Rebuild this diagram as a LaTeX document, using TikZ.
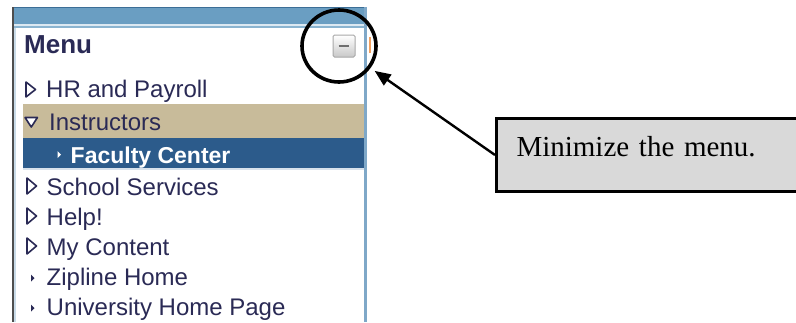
\documentclass[tikz,border=0pt]{standalone}
\usepackage{fontspec}
\setmainfont{Liberation Sans}
\newfontfamily\serifcall{Liberation Serif}
\usetikzlibrary{arrows.meta,shapes.geometric}
\definecolor{menutext}{HTML}{2A2A55}
\definecolor{bandblue}{HTML}{6A9EC2}
\definecolor{bandtop}{HTML}{3C6E96}
\definecolor{bandlight}{HTML}{DCE9F2}
\definecolor{bandline}{HTML}{8AB4D0}
\definecolor{leftdark}{HTML}{4E4E4E}
\definecolor{leftlight}{HTML}{C9DBE8}
\definecolor{edgeblue}{HTML}{7FA8C8}
\definecolor{edgeorange}{HTML}{F0A060}
\definecolor{rowtan}{HTML}{C8BB9A}
\definecolor{rowblue}{HTML}{2C5B8B}
\definecolor{rowsep}{HTML}{D8E2EC}
\definecolor{btnbottom}{HTML}{C8C8C8}
\definecolor{btnborder}{HTML}{A8A8A8}
\definecolor{btndash}{HTML}{6E6E6E}
\definecolor{callgray}{HTML}{D9D9D9}
\tikzset{
  item/.style={anchor=base west, inner sep=0pt, text=menutext, font=\fontsize{24}{28}\selectfont},
  selitem/.style={anchor=base west, inner sep=0pt, text=white, font=\bfseries\fontsize{23}{28}\selectfont},
  openicon/.style={draw=menutext, fill=white, line width=1.6pt, line join=round},
  callout/.style={draw=black, line width=3pt, fill=callgray, anchor=north west, inner xsep=20pt, inner ysep=0pt,
    text width=265pt, text height=38pt, text depth=35pt, align=left, font=\serifcall\fontsize{29}{34}\selectfont},
  ring/.style={ellipse, draw=black, line width=3.6pt, minimum width=74pt, minimum height=72pt, inner sep=0pt},
  pointer/.style={draw=black, line width=2.4pt, -{Triangle[length=16pt,width=13pt]}, shorten >=5pt}
}
\begin{document}
\begin{tikzpicture}[x=1pt,y=-1pt]
\useasboundingbox (0,0) rectangle (796,322);
\clip (0,0) rectangle (796,322);
\fill[white] (0,0) rectangle (796,322);
% panel
\fill[bandblue] (13,7) rectangle (366,23.5);
\draw[bandtop, line width=1pt] (13,7.5) -- (366,7.5);
\fill[bandlight] (13,23.5) rectangle (366,26);
\fill[bandline] (13,26) rectangle (366,27.5);
\fill[leftdark] (11.5,7) rectangle (14,322);
\fill[leftlight] (14,27.5) rectangle (15.5,322);
\fill[edgeblue] (363.5,7) rectangle (367,322);
\draw[edgeorange, line width=1.2pt] (370,37) -- (370,53);
% rows
\fill[rowtan] (23,104) rectangle (363.5,138);
\fill[rowblue] (23,138) rectangle (363.5,168);
\fill[rowsep] (23,168) rectangle (363.5,169.5);
% minimize button
\shade[top color=white, bottom color=btnbottom, draw=btnborder, line width=1pt, rounded corners=1.5pt] (333,35) rectangle (355,57);
\draw[btndash, line width=2pt] (338.5,46) -- (348.5,46);
% title
\node[anchor=base west, inner sep=0pt, text=menutext, font=\bfseries\fontsize{26}{30}\selectfont] (menu) at (24,53) {Menu};
% items
\node[item] (hr) at (46,97) {HR and Payroll};
\node[item] (instr) at (49,130) {Instructors};
\node[selitem] (fac) at (70.5,163) {Faculty Center};
\node[item] (school) at (46.5,195) {School Services};
\node[item] (help) at (46.5,225) {Help!};
\node[item] (mycont) at (46.5,255) {My Content};
\node[item] (zip) at (46.5,285) {Zipline Home};
\node[item] (univ) at (46.5,315) {University Home Page};
% icons
\draw[openicon] (26,82) -- (35.5,89.5) -- (26,97) -- cycle;
\draw[openicon] (27,178) -- (36.5,186) -- (27,194) -- cycle;
\draw[openicon] (27,208) -- (36.5,216) -- (27,224) -- cycle;
\draw[openicon] (27,238) -- (36.5,246) -- (27,254) -- cycle;
\draw[openicon] (25,117.5) -- (37.5,117.5) -- (31.25,127) -- cycle;
\fill[white] (57.5,151) -- (61,154.5) -- (57.5,158) -- cycle;
\fill[menutext] (31,274.5) -- (34.5,278) -- (31,281.5) -- cycle;
\fill[menutext] (31,304.5) -- (34.5,308) -- (31,311.5) -- cycle;
% highlight ring and callout
\node[ring] (circ) at (339,46) {};
\node[callout] (call) at (495,117) {Minimize the menu.};
\draw[pointer] (call.west) -- (circ);
\end{tikzpicture}
\end{document}
